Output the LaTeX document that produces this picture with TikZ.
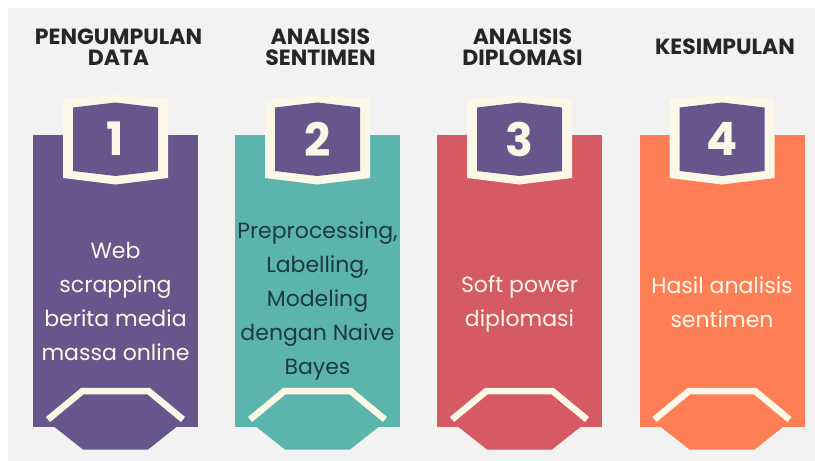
\documentclass[tikz,border=0pt]{standalone}
\usepackage{fontspec}
\setmainfont{Poppins}
\definecolor{bgc}{HTML}{F2F2F2}
\definecolor{purp}{HTML}{67568C}
\definecolor{teal}{HTML}{5BB5AD}
\definecolor{redc}{HTML}{D55A63}
\definecolor{oran}{HTML}{FE7F56}
\definecolor{cream}{HTML}{FBF8E8}
\definecolor{darkt}{HTML}{1D3B3F}
\definecolor{titlec}{HTML}{262626}
\tikzset{
  titletext/.style={align=center, text=titlec, font=\bfseries\fontsize{22}{21.5}\selectfont, inner sep=0pt},
  bodytext/.style={align=center, font=\fontsize{22}{34}\selectfont, inner sep=0pt},
  numtext/.style={text=cream, font=\bfseries\fontsize{46}{46}\selectfont, inner sep=0pt},
  chevron/.style={draw=cream, line width=6.5pt, line cap=butt, line join=miter},
}
\newcommand\stepcolumn[8]{%
  \begin{scope}[shift={(#2,0)}]
    \fill[#3] (-82.5,135) rectangle (82.5,427);
    \fill[#3] (-61,427) -- (-32.5,449.5) -- (32.5,449.5) -- (61,427) -- cycle;
    \draw[chevron] (-67.5,419.5) -- (-33,391) -- (33,391) -- (67.5,419.5);
    \fill[cream] (-52.5,99) -- (0,95) -- (52.5,99) -- (52.5,178) -- (0,184.5) -- (-52.5,178) -- cycle;
    \fill[purp] (-42.5,107.5) -- (0,102.5) -- (42.5,107.5) -- (42.5,171) -- (0,176) -- (-42.5,171) -- cycle;
    \node[numtext] (#1-num) at (0,139) {#6};
    \node[titletext] (#1-title) at (3,47) {#4};
    \node[bodytext, text=#7] (#1-body) at (0,#8) {#5};
  \end{scope}}
\begin{document}
\begin{tikzpicture}[x=1pt,y=-1pt]
\useasboundingbox (0,0) rectangle (815,461);
\fill[white] (0,0) rectangle (815,461);
\fill[bgc] (8,8) rectangle (815,461);
\stepcolumn{c1}{115.5}{purp}{PENGUMPULAN\\DATA}{Web\\scrapping\\berita media\\massa online}{1}{cream}{301}
\stepcolumn{c2}{317.5}{teal}{ANALISIS\\SENTIMEN}{Preprocessing,\\Labelling,\\Modeling\\dengan Naive\\Bayes}{2}{darkt}{301}
\stepcolumn{c3}{519.5}{redc}{ANALISIS\\DIPLOMASI}{Soft power\\diplomasi}{3}{cream}{304}
\stepcolumn{c4}{722}{oran}{KESIMPULAN}{Hasil analisis\\sentimen}{4}{cream}{302}
\end{tikzpicture}
\end{document}
